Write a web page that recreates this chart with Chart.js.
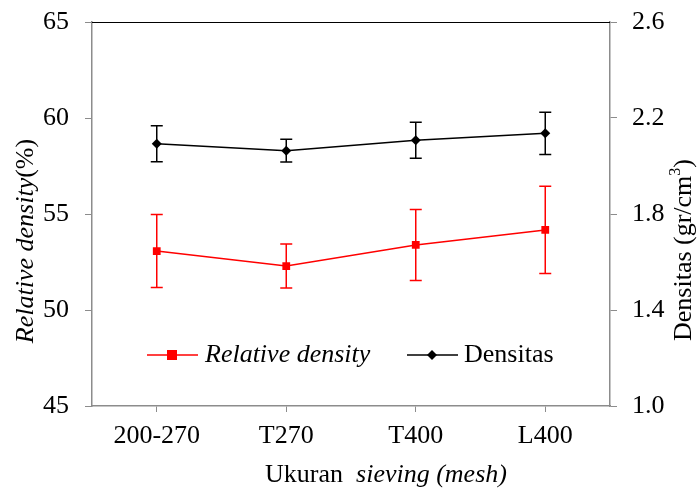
<!DOCTYPE html>
<html>
<head>
<meta charset="utf-8">
<script src="https://cdn.jsdelivr.net/npm/chart.js@4.4.0/dist/chart.umd.min.js"></script>
<style>
  html, body { margin: 0; padding: 0; background: #fff; }
  #wrap { width: 698px; height: 488px; }
</style>
</head>
<body>
<div id="wrap"><canvas id="chart" width="698" height="488"></canvas></div>
<script>
const categories = ['200-270', 'T270', 'T400', 'L400'];
const relDensity = [53.07, 52.29, 53.39, 54.17];
const relDensityErr = [1.9, 1.15, 1.85, 2.27];
const densitas = [2.093, 2.064, 2.107, 2.136];
const densitasErr = [0.075, 0.047, 0.075, 0.088];
const leftTicks = [45, 50, 55, 60, 65];
const rightTicks = [1.0, 1.4, 1.8, 2.2, 2.6];

const FONT = "'Liberation Serif', 'Times New Roman', serif";
const AXIS_GRAY = '#8c8c8c';

// error bars, positioned through the scales
const errorBars = {
    id: 'errorBars',
    afterDatasetsDraw(chart) {
        const ctx = chart.ctx;
        const sets = [
            { values: relDensity, errs: relDensityErr, axis: 'y', color: '#ff0000' },
            { values: densitas, errs: densitasErr, axis: 'y1', color: '#000000' }
        ];
        const xs = chart.scales.x;
        ctx.save();
        ctx.lineWidth = 1.5;
        sets.forEach(s => {
            const ys = chart.scales[s.axis];
            ctx.strokeStyle = s.color;
            s.values.forEach((v, i) => {
                const x = xs.getPixelForValue(i);
                const yTop = ys.getPixelForValue(v + s.errs[i]);
                const yBot = ys.getPixelForValue(v - s.errs[i]);
                ctx.beginPath();
                ctx.moveTo(x, yTop); ctx.lineTo(x, yBot);
                ctx.moveTo(x - 6, yTop); ctx.lineTo(x + 6, yTop);
                ctx.moveTo(x - 6, yBot); ctx.lineTo(x + 6, yBot);
                ctx.stroke();
            });
        });
        ctx.restore();
    }
};

// titles with mixed italic text, legend inside the plot, top border
const decorations = {
    id: 'decorations',
    afterDraw(chart) {
        const ctx = chart.ctx;
        const a = chart.chartArea;
        ctx.save();

        // top border
        ctx.strokeStyle = '#000';
        ctx.lineWidth = 1;
        ctx.beginPath();
        ctx.moveTo(a.left, a.top + 0.5);
        ctx.lineTo(a.right, a.top + 0.5);
        ctx.stroke();

        ctx.fillStyle = '#000';
        ctx.textBaseline = 'middle';

        function mixed(parts, x, y, align) {
            let total = 0;
            parts.forEach(p => { ctx.font = p.font; total += ctx.measureText(p.text).width; });
            let cx = align === 'center' ? x - total / 2 : x;
            ctx.textAlign = 'left';
            parts.forEach(p => {
                ctx.font = p.font;
                ctx.fillText(p.text, cx, y + (p.dy || 0));
                cx += ctx.measureText(p.text).width;
            });
        }

        // x title
        mixed([
            { text: 'Ukuran  ', font: `26px ${FONT}` },
            { text: 'sieving (mesh)', font: `italic 26px ${FONT}` }
        ], 386, 475, 'center');

        // left title
        ctx.save();
        ctx.translate(26, 241);
        ctx.rotate(-Math.PI / 2);
        mixed([
            { text: 'Relative density', font: `italic 26px ${FONT}` },
            { text: '(%)', font: `26px ${FONT}` }
        ], 0, 0, 'center');
        ctx.restore();

        // right title
        ctx.save();
        ctx.translate(684, 250);
        ctx.rotate(-Math.PI / 2);
        mixed([
            { text: 'Densitas (gr/cm', font: `26px ${FONT}` },
            { text: '3', font: `16px ${FONT}`, dy: -8 },
            { text: ')', font: `26px ${FONT}` }
        ], 0, 0, 'center');
        ctx.restore();

        // legend
        const ly = 355;
        ctx.lineWidth = 1.5;
        ctx.strokeStyle = '#ff0000';
        ctx.beginPath(); ctx.moveTo(147, ly); ctx.lineTo(198, ly); ctx.stroke();
        ctx.fillStyle = '#ff0000';
        ctx.fillRect(172 - 5, ly - 5, 10, 10);
        ctx.strokeStyle = '#000';
        ctx.beginPath(); ctx.moveTo(407, ly); ctx.lineTo(458, ly); ctx.stroke();
        ctx.fillStyle = '#000';
        ctx.beginPath();
        ctx.moveTo(432, ly - 5); ctx.lineTo(437, ly); ctx.lineTo(432, ly + 5); ctx.lineTo(427, ly);
        ctx.closePath(); ctx.fill();
        mixed([{ text: 'Relative density', font: `italic 26px ${FONT}` }], 205, ly, 'left');
        mixed([{ text: 'Densitas', font: `26px ${FONT}` }], 464, ly, 'left');

        ctx.restore();
    }
};

new Chart(document.getElementById('chart'), {
    type: 'line',
    data: {
        labels: categories,
        datasets: [
            {
                label: 'Relative density',
                data: relDensity,
                yAxisID: 'y',
                borderColor: '#ff0000',
                backgroundColor: '#ff0000',
                borderWidth: 1.5,
                pointStyle: 'rect',
                pointRadius: 5.5,
                pointBorderWidth: 0,
                tension: 0
            },
            {
                label: 'Densitas',
                data: densitas,
                yAxisID: 'y1',
                borderColor: '#000000',
                backgroundColor: '#000000',
                borderWidth: 1.5,
                pointStyle: 'rectRot',
                pointRadius: 5,
                pointBorderWidth: 0,
                tension: 0
            }
        ]
    },
    options: {
        responsive: false,
        animation: false,
        layout: { padding: { top: 22, left: 0, right: 0, bottom: 0 } },
        plugins: {
            legend: { display: false },
            tooltip: { enabled: false }
        },
        scales: {
            x: {
                offset: true,
                afterFit: s => { s.height = 82; s.paddingLeft = 0; s.paddingRight = 0; },
                grid: { drawOnChartArea: false, color: AXIS_GRAY, tickLength: 6, offset: false },
                border: { color: AXIS_GRAY, width: 1.5 },
                ticks: { color: '#000', font: { family: FONT, size: 26 }, padding: 9 }
            },
            y: {
                position: 'left',
                min: 45,
                max: 65,
                afterFit: s => { s.width = 92; s.paddingTop = 0; s.paddingBottom = 0; },
                afterBuildTicks: s => { s.ticks = leftTicks.map(v => ({ value: v })); },
                grid: { drawOnChartArea: false, color: AXIS_GRAY, tickLength: 7 },
                border: { color: AXIS_GRAY, width: 1.5 },
                ticks: { color: '#000', font: { family: FONT, size: 26 }, padding: 16 }
            },
            y1: {
                position: 'right',
                min: 1.0,
                max: 2.6,
                afterFit: s => { s.width = 88; s.paddingTop = 0; s.paddingBottom = 0; },
                afterBuildTicks: s => { s.ticks = rightTicks.map(v => ({ value: v })); },
                grid: { drawOnChartArea: false, color: AXIS_GRAY, tickLength: 7 },
                border: { color: AXIS_GRAY, width: 1.5 },
                ticks: {
                    color: '#000',
                    font: { family: FONT, size: 26 },
                    padding: 15,
                    callback: v => Number(v).toFixed(1)
                }
            }
        }
    },
    plugins: [errorBars, decorations]
});
</script>
</body>
</html>
